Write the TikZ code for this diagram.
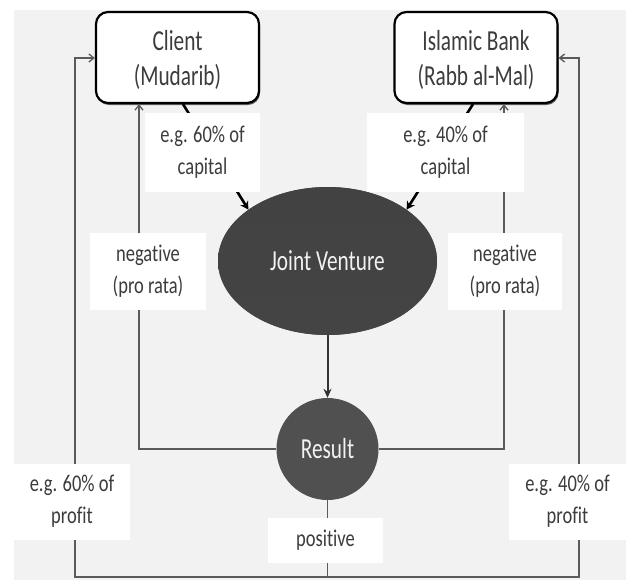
\documentclass[tikz,border=0pt]{standalone}
\usepackage{fontspec}
\setmainfont{Carlito}[Ligatures=NoCommon]
\usepackage{graphicx}
\usetikzlibrary{arrows.meta,shapes.geometric,shadows}
\definecolor{bg}{HTML}{F2F2F2}
\definecolor{ln}{HTML}{5A5A5A}
\definecolor{blobfill}{HTML}{505050}
\definecolor{txt}{HTML}{3C3C3C}
\newcommand\sqm[1]{\scalebox{0.735}[1]{#1}}
\newcommand\sql[1]{\scalebox{0.77}[1]{#1}}
\begin{document}
\begin{tikzpicture}[x=1pt,y=-1pt,
  party/.style={draw=black, line width=2.2pt, rounded corners=12pt, fill=white,
    minimum width=163pt, minimum height=91pt, inner sep=0pt,
    drop shadow={shadow xshift=1pt,shadow yshift=-2pt,opacity=0.6,fill=black}},
  partytext/.style={font=\fontsize{29}{35}\selectfont, text=txt, align=center, inner sep=0pt},
  lab/.style={fill=white, inner sep=0pt, font=\fontsize{24}{32}\selectfont,
    text=txt, align=center},
  thinline/.style={draw=ln, line width=1.3pt},
  tip/.style={-{Straight Barb[length=5pt,width=8pt]}},
  blob/.style={fill=blobfill, text=white!95!black, font=\fontsize{29}{32}\selectfont, inner sep=0pt},
  bigarrow/.style={draw=black, line width=2.6pt, -{Stealth[length=8pt,width=9pt]}},
  downarrow/.style={draw=black!80, line width=2pt, -{Stealth[length=9pt,width=8pt]}}
]
\useasboundingbox (0,0) rectangle (626,584);
\fill[bg] (14,10) rectangle (626,580);

% main nodes
\node[party] (client) at (177.5,57.5) {};
\node[partytext] (clientt) at (177.5,60) {\sqm{Client}\\\sqm{(Mudarib)}};
\node[party] (bank) at (476,57.5) {};
\node[partytext] (bankt) at (476,60) {\sqm{Islamic Bank}\\\sqm{(Rabb al-Mal)}};
\node[ellipse, blob, minimum width=219pt, minimum height=148pt,
      top color=blobfill!108!white, bottom color=blobfill!85!black] (jv) at (327.5,261) {\sqm{Joint Venture}};
\node[circle, blob, minimum size=102pt] (res) at (327.5,449) {\sqm{Result}};

% helper coordinates
\coordinate (bl) at (75,577);
\coordinate (br) at (579,577);
\coordinate (bm) at (327.5,577);
\coordinate (lo) at (75,58);
\coordinate (ro) at (579,58);
\coordinate (lix) at (139,0);
\coordinate (rix) at (504,0);
\coordinate (ca) at (183,0);
\coordinate (cb) at (473,0);

% thin connectors
\draw[thinline] (res.south) -- (bm);
\draw[thinline,tip] (bm) -| (lo) -- (client.west |- lo);
\draw[thinline,tip] (bm) -| (ro) -- (bank.east |- ro);
\draw[thinline,tip] (res.west) -| (lix |- client.south);
\draw[thinline,tip] (res.east) -| (rix |- bank.south);

% capital arrows
\draw[bigarrow] (ca |- client.south) -- (jv.147);
\draw[bigarrow] (cb |- bank.south) -- (jv.33);
\draw[downarrow] (jv.south) -- (res.north);

% labels
\node[lab, minimum width=115pt, minimum height=79pt] (cap1) at (202.5,152.5) {\sql{e.g. 60\% of}\\\sql{capital}};
\node[lab, minimum width=157pt, minimum height=79pt] (cap2) at (445.5,152.5) {\sql{e.g. 40\% of}\\\sql{capital}};
\node[lab, minimum width=116pt, minimum height=77pt] (neg1) at (148,271.5) {\sql{negative}\\\sql{(pro rata)}};
\node[lab, minimum width=114pt, minimum height=77pt] (neg2) at (505,271.5) {\sql{negative}\\\sql{(pro rata)}};
\node[lab, minimum width=116pt, minimum height=76pt] (prof1) at (72,501.5) {\sql{e.g. 60\% of}\\\sql{profit}};
\node[lab, minimum width=117pt, minimum height=76pt] (prof2) at (567.5,501.5) {\sql{e.g. 40\% of}\\\sql{profit}};
\node[lab, minimum width=115pt, minimum height=45pt] (pos) at (325.5,540.5) {\sql{positive}};
\end{tikzpicture}
\end{document}
